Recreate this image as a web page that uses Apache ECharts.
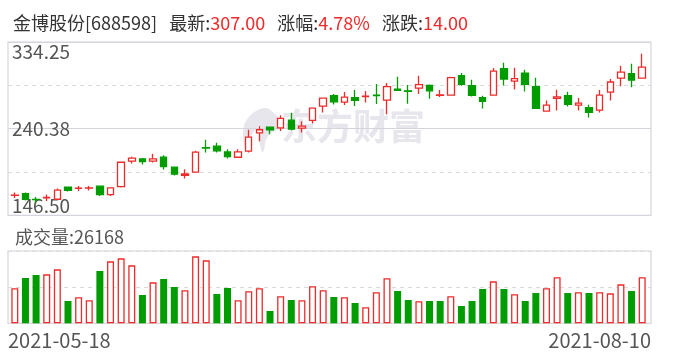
<!DOCTYPE html>
<html><head><meta charset="utf-8">
<script src="https://cdn.jsdelivr.net/npm/echarts@6/dist/echarts.min.js"></script>
<style>html,body{margin:0;padding:0;background:#fff}#c{width:688px;height:360px}</style>
</head><body><div id="c"></div>
<script>
const stockName = '金博股份';
const stockCode = '688598';
const dates = [
'2021-05-18','2021-05-19','2021-05-20','2021-05-21','2021-05-24','2021-05-25','2021-05-26','2021-05-27','2021-05-28','2021-05-31',
'2021-06-01','2021-06-02','2021-06-03','2021-06-04','2021-06-07','2021-06-08','2021-06-09','2021-06-10','2021-06-11','2021-06-15',
'2021-06-16','2021-06-17','2021-06-18','2021-06-21','2021-06-22','2021-06-23','2021-06-24','2021-06-25','2021-06-28','2021-06-29',
'2021-06-30','2021-07-01','2021-07-02','2021-07-05','2021-07-06','2021-07-07','2021-07-08','2021-07-09','2021-07-12','2021-07-13',
'2021-07-14','2021-07-15','2021-07-16','2021-07-19','2021-07-20','2021-07-21','2021-07-22','2021-07-23','2021-07-26','2021-07-27',
'2021-07-28','2021-07-29','2021-07-30','2021-08-02','2021-08-03','2021-08-04','2021-08-05','2021-08-06','2021-08-09','2021-08-10'];
const opens = [
168.0,170.0,163.8,165.4,163.9,176.9,175.6,175.9,178.0,168.9,
177.6,205.1,207.6,205.1,209.5,198.6,189.9,193.2,219.8,221.4,
215.2,209.4,216.0,235.9,242.0,241.3,249.6,240.9,249.3,264.8,
276.0,269.2,273.9,275.0,276.6,271.3,283.3,281.3,284.3,287.2,
276.5,276.7,297.7,286.9,273.9,276.7,305.3,291.9,300.6,285.8,
259.4,273.1,276.0,265.9,263.0,260.5,280.0,295.2,299.9,295.2];
const closes = [
168.3,163.9,163.4,165.9,173.8,173.6,176.0,176.2,168.9,176.2,
204.0,208.4,204.7,207.6,199.3,191.0,191.3,214.9,219.4,216.3,
210.2,215.2,231.2,239.2,239.0,251.4,239.8,243.1,262.6,273.5,
269.5,274.6,271.0,275.5,276.2,285.8,281.8,280.9,288.0,281.4,
276.9,295.6,288.3,276.4,269.9,302.8,294.1,294.5,288.3,262.3,
265.9,274.9,266.6,268.1,258.0,276.7,290.9,301.7,293.0,307.0];
const lows = [
165.3,162.4,160.0,162.1,163.5,172.2,172.9,173.3,167.5,167.5,
176.5,202.6,201.5,203.7,196.1,189.6,186.3,193.0,214.5,214.5,
208.0,209.0,214.5,226.8,234.4,237.7,238.4,236.2,246.0,257.9,
266.6,265.9,264.8,268.8,267.0,256.1,281.5,267.3,277.8,272.8,
274.6,276.5,286.9,275.3,262.3,276.5,287.2,282.9,280.7,262.0,
259.0,260.1,264.4,260.1,252.5,257.9,271.0,286.2,285.1,295.0];
const highs = [
171.1,171.1,166.4,168.9,175.4,177.2,178.3,178.3,178.7,176.6,
204.7,209.8,208.7,213.1,211.6,198.9,196.4,216.3,228.3,225.0,
218.1,218.1,239.1,243.1,242.3,255.0,257.6,248.5,263.0,273.8,
277.8,280.0,282.2,281.1,288.7,289.8,296.6,287.6,297.7,288.3,
282.2,296.6,300.6,293.4,276.0,306.1,311.8,306.4,304.2,295.6,
270.9,282.5,280.4,273.5,266.3,282.2,294.1,308.6,310.8,321.6];
const volumes = [
19910,25790,27490,27870,30720,12700,14790,13080,29770,35270,
36970,32990,16120,23320,25220,20670,18770,38110,35830,16680,
20100,13080,18200,19910,7020,15360,13270,13080,21050,18770,
14980,14790,11570,9100,17630,25600,18390,13270,12510,12700,
12700,15360,9860,12700,19530,23890,19530,16500,12700,17250,
19910,26170,17250,17630,17250,17630,17060,22180,18390,26168];
const priceTickLabels = ['146.50', '240.38', '334.25'];
const priceMin = 146.5, priceMax = 334.25;
const volumeMax = 41150;

const RED = '#ee2a2a', GREEN = '#009c00', BORDER = '#d4d4dc', DASH = '#dadada', TXT = '#555', FONT = 'Noto Sans CJK SC';
const n = dates.length;
const lastClose = closes[n - 1], prevClose = closes[n - 2];
const chg = lastClose - prevClose;
const pct = chg / prevClose * 100;

const kData = opens.map((o, i) => [o, closes[i], lows[i], highs[i]]);
const volData = volumes.map((v, i) => {
  const up = i === 0 ? closes[i] >= opens[i] : closes[i] >= closes[i - 1];
  return { value: v, itemStyle: up ? { color: '#fff', borderColor: RED, borderWidth: 1.3 } : { color: GREEN, borderColor: GREEN, borderWidth: 0 } };
});

const chart = echarts.init(document.getElementById('c'), null, { renderer: 'canvas' });
const hiddenCat = (g, bg) => ({ type: 'category', gridIndex: g, data: dates, boundaryGap: bg, axisLine: { show: false }, axisTick: { show: false }, axisLabel: { show: false }, splitLine: { show: false } });
chart.setOption({
  animation: false,
  backgroundColor: '#fff',
  textStyle: { fontFamily: FONT },
  title: [
    { left: 8, top: 9, text: `{n|${stockName}[${stockCode}]   最新:}{r|${lastClose.toFixed(2)}}{n|   涨幅:}{r|${pct.toFixed(2)}%}{n|   涨跌:}{r|${chg.toFixed(2)}}`,
      textStyle: { fontWeight: 'normal', rich: { n: { fontSize: 18, fontWeight: 'normal', color: '#333', fontFamily: FONT }, r: { fontSize: 18, fontWeight: 'normal', color: RED, fontFamily: FONT } } } },
    { left: 10, top: 223, text: '成交量:' + volumes[n - 1], textStyle: { fontSize: 18, fontWeight: 'normal', color: TXT, fontFamily: FONT } }
  ],
  graphic: [
    { type: 'polygon', z: 0, silent: true,
      shape: { points: [[264, 108], [248, 118], [243, 134], [247, 150], [251, 136], [260, 126], [259, 140], [263, 152], [268, 136], [283, 125], [274, 113]], smooth: 0.4 },
      style: { fill: '#e6e6ec' } },
    { type: 'text', left: 281, top: 108, z: 0, silent: true, style: { text: '东方财富', fontSize: 36, fontWeight: 'bold', fill: '#e6e6ec', fontFamily: FONT } }
  ],
  grid: [
    { left: 8, top: 42, width: 643, height: 173.3, show: true, borderColor: BORDER, borderWidth: 1.2, backgroundColor: 'transparent' },
    { left: 8, top: 251, width: 643, height: 72.3, show: true, borderColor: BORDER, borderWidth: 1.2, backgroundColor: 'transparent' },
    { left: 9.5, top: 42, width: 638, height: 173.3 },
    { left: 9.5, top: 251, width: 638, height: 72.3 }
  ],
  xAxis: [
    hiddenCat(0, false),
    { type: 'category', gridIndex: 1, data: dates, boundaryGap: false, axisLine: { show: false }, axisTick: { show: false }, splitLine: { show: false },
      axisLabel: { show: true, interval: (i) => i === 0 || i === n - 1, alignMinLabel: 'left', alignMaxLabel: 'right', fontSize: 20, color: TXT, margin: 7, fontFamily: FONT } },
    hiddenCat(2, true),
    hiddenCat(3, true)
  ],
  yAxis: [
    { type: 'value', gridIndex: 0, min: 0, max: 4, interval: 1, axisLine: { show: false }, axisTick: { show: false },
      splitLine: { show: true, lineStyle: { color: DASH, type: [4, 4], width: 1 } },
      axisLabel: { show: true, inside: true, margin: 4, fontSize: 19, color: TXT, fontFamily: FONT,
        verticalAlignMinLabel: 'bottom', verticalAlignMaxLabel: 'top',
        formatter: (v) => (v % 2 === 0 ? priceTickLabels[v / 2] : '') } },
    { type: 'value', gridIndex: 0, position: 'right', min: 0, max: 2, interval: 1, axisLine: { show: false }, axisTick: { show: false }, axisLabel: { show: false },
      splitLine: { show: true, lineStyle: { color: BORDER, type: 'solid', width: 1.2 } } },
    { type: 'value', gridIndex: 1, min: 0, max: 2, interval: 1, axisLine: { show: false }, axisTick: { show: false }, axisLabel: { show: false },
      splitLine: { show: true, lineStyle: { color: DASH, type: [4, 4], width: 1 } } },
    { type: 'value', gridIndex: 2, min: priceMin, max: priceMax, show: false, splitLine: { show: false } },
    { type: 'value', gridIndex: 3, min: 0, max: volumeMax, show: false, splitLine: { show: false } }
  ],
  series: [
    { type: 'candlestick', xAxisIndex: 2, yAxisIndex: 3, data: kData, barWidth: 7, z: 3,
      itemStyle: { color: '#fff', color0: GREEN, borderColor: RED, borderColor0: GREEN, borderWidth: 1.3 } },
    { type: 'bar', xAxisIndex: 3, yAxisIndex: 4, data: volData, barWidth: 7, z: 3 }
  ]
});
</script>
</body></html>
